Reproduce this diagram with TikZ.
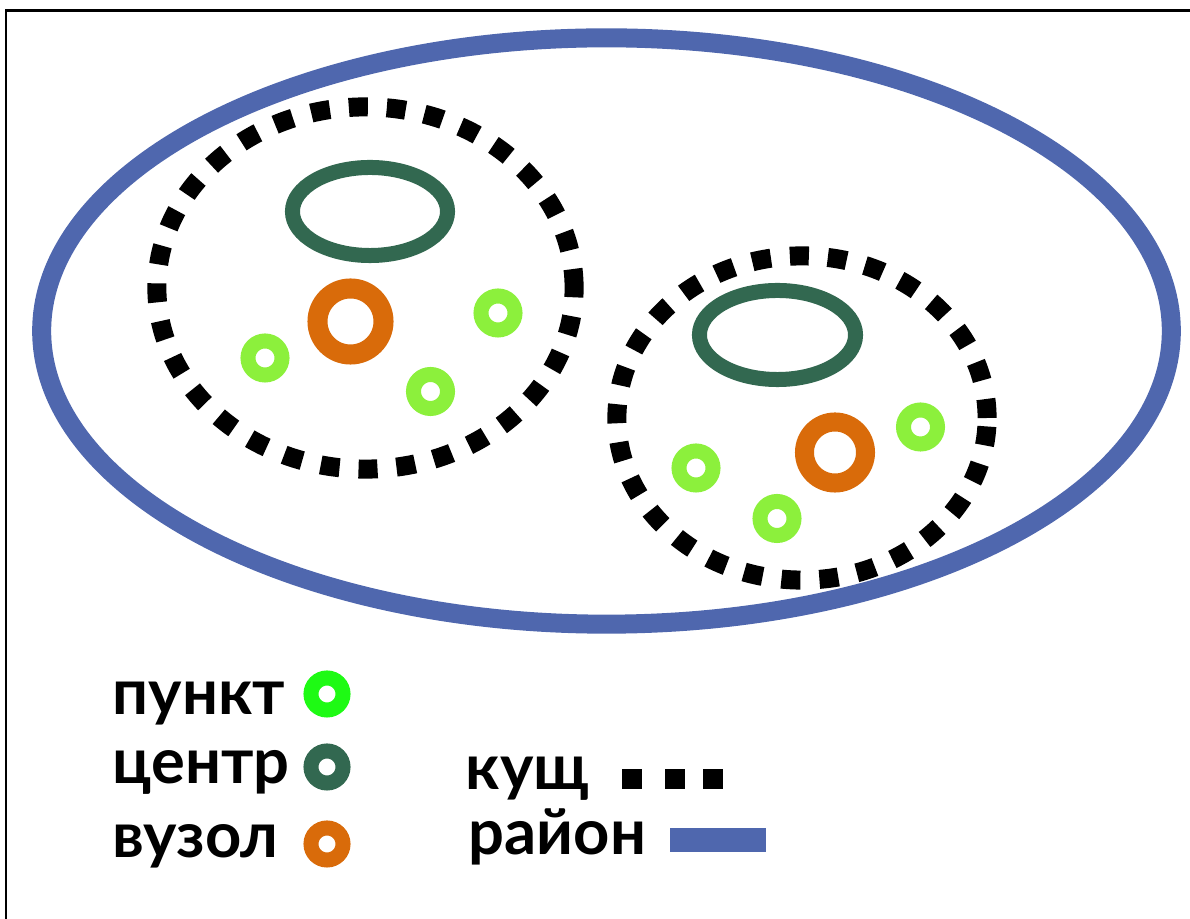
\documentclass[tikz,border=0pt]{standalone}
\usepackage{fontspec}
\setmainfont{Lato}
\usepackage{tikz}
\usetikzlibrary{shapes.geometric}
\definecolor{rayonblue}{RGB}{79,103,174}
\definecolor{centergreen}{RGB}{50,104,80}
\definecolor{vuzolorange}{RGB}{217,107,10}
\definecolor{punktgreen}{RGB}{140,240,60}
\definecolor{legendgreen}{RGB}{30,250,20}
\tikzset{
  rayon/.style={ellipse,draw=rayonblue,line width=0.19cm,inner sep=0pt},
  kushch/.style={ellipse,draw=black,line width=0.19cm,dash pattern=on 0.19cm off 0.19cm,inner sep=0pt},
  centr/.style={ellipse,draw=centergreen,line width=0.15cm,inner sep=0pt},
  vuzol/.style={circle,draw=vuzolorange,line width=0.2cm,inner sep=0pt,minimum size=0.66cm},
  punkt/.style={circle,draw=punktgreen,line width=0.15cm,inner sep=0pt,minimum size=0.34cm},
  legtext/.style={font=\bfseries\fontsize{18}{22}\selectfont,anchor=base west,inner sep=0pt}
}
\begin{document}
\begin{tikzpicture}[x=0.01cm,y=-0.01cm]
              \useasboundingbox (0,0) rectangle (1190,919);
              \draw[line width=0.025cm](6.2,919)--(6.2,10.7)--(1190,10.7);
              \node[rayon,minimum width=11.29cm,minimum height=5.86cm](r)at(606.5,331){};
              % first kushch
              \node[kushch,minimum width=4.17cm,minimum height=3.62cm](k1)at(365.5,288){};
              \node[centr,minimum width=1.55cm,minimum height=0.88cm](c1)at(370,211.5){};
              \node[vuzol](v1)at(350.5,321.5){};
              \node[punkt](p11)at(265,358){};
              \node[punkt](p12)at(498,313){};
              \node[punkt](p13)at(430.5,391.5){};
              % second kushch
              \node[kushch,minimum width=3.7cm,minimum height=3.24cm](k2)at(802,418){};
              \node[centr,minimum width=1.56cm,minimum height=0.89cm](c2)at(777.5,335){};
              \node[vuzol,minimum size=0.61cm,line width=0.19cm](v2)at(835,452.5){};
              \node[punkt](p21)at(696,468){};
              \node[punkt](p22)at(920.5,427){};
              \node[punkt](p23)at(777,518.5){};
              % legend
              \node[legtext](tp)at(112,715){пункт};
              \node[legtext](tc)at(112,784){центр};
              \node[legtext](tv)at(112,858){вузол};
              \node[punkt,draw=legendgreen,minimum size=0.32cm](lp)at(327,694){};
              \node[centr,circle,minimum size=0.32cm](lc)at(327,767){};
              \node[vuzol,line width=0.15cm,minimum size=0.32cm](lv)at(327,844){};
              \node[legtext](tk)at(465,790){кущ};
              \node[legtext](tr)at(468,855){район};
              \foreach \x in {632,675,713} \fill[black](\x-10,769)rectangle++(20,20);
              \fill[rayonblue](670,828)rectangle(766,852);
            \end{tikzpicture}
\end{document}
